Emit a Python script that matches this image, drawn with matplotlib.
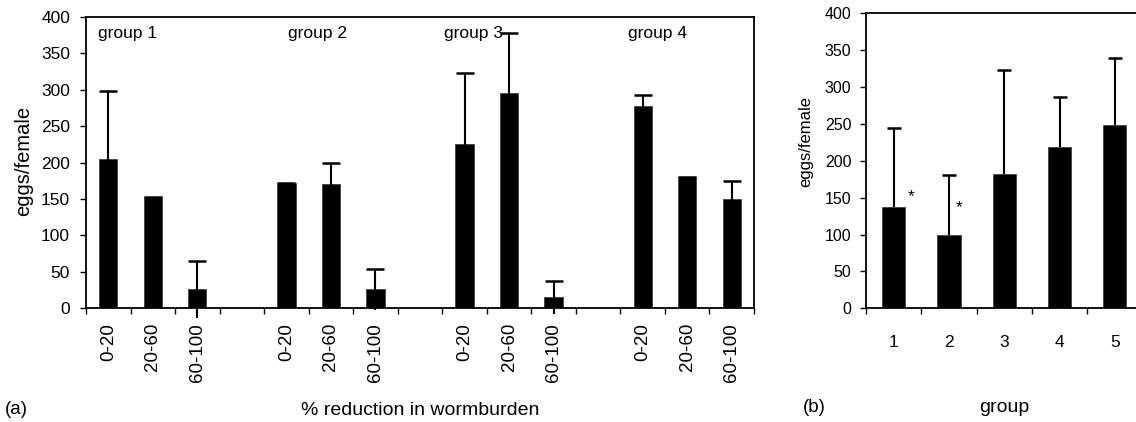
import matplotlib
matplotlib.use("Agg")
import matplotlib.pyplot as plt
import numpy as np

plt.rcParams['font.family'] = ['Liberation Sans', 'DejaVu Sans']

# ---- data ----
group_names = ['group 1', 'group 2', 'group 3', 'group 4']
reduction_cats = ['0-20', '20-60', '60-100']
means_a = [[205, 152, 26], [172, 170, 26], [226, 296, 15], [277, 180, 150]]
errs_a = [[93, 0, 39], [0, 29, 28], [97, 81, 23], [16, 0, 25]]

groups_b = ['1', '2', '3', '4', '5']
means_b = [137, 99, 182, 219, 249]
errs_b = [107, 82, 141, 67, 91]
signif_b = [True, True, False, False, False]

yticks = [0, 50, 100, 150, 200, 250, 300, 350, 400]

fig = plt.figure(figsize=(11.36, 4.22), dpi=100)
axa = fig.add_axes([86/1136, 1-308.3/422, (754-86)/1136, (308.3-16.7)/422])
axb = fig.add_axes([866/1136, 1-308.3/422, (1142.5-866)/1136, (308.3-13.3)/422])

# ---- panel a ----
ncat = len(reduction_cats)
xs, ys, es, labels = [], [], [], []
for gi, (m, e) in enumerate(zip(means_a, errs_a)):
    for ci in range(ncat):
        xs.append(gi * (ncat + 1) + ci)
        ys.append(m[ci])
        es.append(e[ci])
        labels.append(reduction_cats[ci])
xs = np.array(xs); ys = np.array(ys); es = np.array(es)
nslots = len(group_names) * (ncat + 1) - 1

axa.bar(xs, ys, width=0.41, color='black', edgecolor='#333333', linewidth=0.5, zorder=2)
axa.vlines(xs, ys - es, ys + es, color='black', linewidth=1.5, zorder=3, clip_on=False)
axa.plot(xs, ys + es, ls='none', marker='_', ms=13, mew=1.8, color='black', zorder=3, clip_on=False)

axa.set_xlim(-0.5, nslots - 0.5)
axa.set_ylim(0, 400)
axa.set_yticks(yticks)
axa.set_xticks(np.arange(-0.5, nslots, 1.0))
axa.set_xticklabels([])
axa.set_xticks(xs, minor=True)
axa.set_xticklabels(labels, minor=True, rotation=90, va='top', ha='center')
axa.tick_params(axis='x', which='major', direction='out', length=4.5, width=1)
axa.tick_params(axis='x', which='minor', length=0, pad=10.5, labelsize=13.5)
axa.tick_params(axis='y', direction='out', length=4.5, width=1, pad=7, labelsize=12.5)
for s in axa.spines.values():
    s.set_linewidth(1.3)

label_x = [-0.23, 4.03, 7.53, 11.67]
for name, lx in zip(group_names, label_x):
    axa.text(lx, 371, name, fontsize=12.5, va='baseline', ha='left')

axa.set_ylabel('eggs/female', fontsize=14.5)
axa.yaxis.set_label_coords(-0.079, 0.505)
axa.set_xlabel('% reduction in wormburden', fontsize=14, va='center')
axa.xaxis.set_label_coords(0.5, -0.349)
fig.text(16/1136, 1-410/422, '(a)', fontsize=13.5, ha='center', va='center')

# ---- panel b ----
xb = np.arange(len(groups_b))
mb = np.array(means_b); eb = np.array(errs_b)
axb.bar(xb, mb, width=0.42, color='black', edgecolor='#333333', linewidth=0.5, zorder=2)
axb.vlines(xb, mb, mb + eb, color='black', linewidth=1.5, zorder=3)
axb.plot(xb, mb + eb, ls='none', marker='_', ms=9.5, mew=1.8, color='black', zorder=3, clip_on=False)
star_dx = [0.31, 0.18]
star_y = [152, 136]
k = 0
for i, sig in enumerate(signif_b):
    if sig:
        axb.text(xb[i] + star_dx[k], star_y[k], '*', fontsize=12.5, ha='center', va='center')
        k += 1

axb.set_xlim(-0.5, len(groups_b) - 0.5)
axb.set_ylim(0, 400)
axb.set_yticks(yticks)
axb.set_xticks(np.arange(-0.5, len(groups_b), 1.0))
axb.set_xticklabels([])
axb.set_xticks(xb, minor=True)
axb.set_xticklabels(groups_b, minor=True)
axb.tick_params(axis='x', which='major', direction='out', length=4.5, width=1)
axb.tick_params(axis='x', which='minor', length=0, pad=19.5, labelsize=12.5)
axb.tick_params(axis='y', direction='out', length=4.5, width=1, pad=6, labelsize=11.5)
for s in axb.spines.values():
    s.set_linewidth(1.3)

axb.set_ylabel('eggs/female', fontsize=12)
axb.yaxis.set_label_coords(-0.192, 0.565)
axb.set_xlabel('group', fontsize=14, va='center')
axb.xaxis.set_label_coords(0.5, -0.335)
fig.text(814/1136, 1-407/422, '(b)', fontsize=13.5, ha='center', va='center')

fig.savefig('out.png', dpi=100)
